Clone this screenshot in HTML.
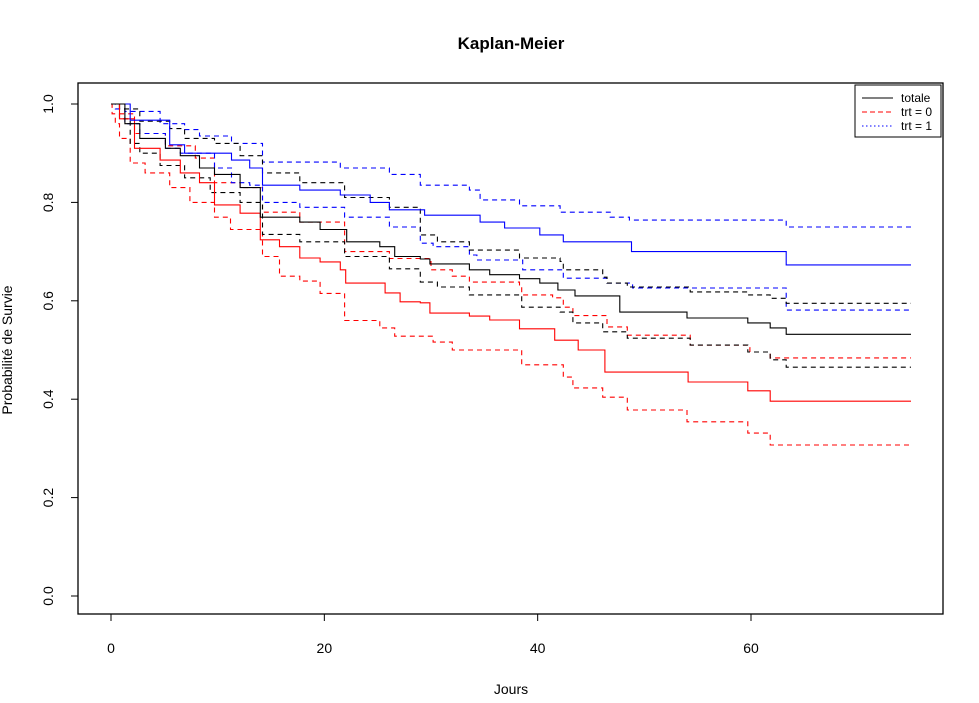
<!DOCTYPE html>
<html><head><meta charset="utf-8"><style>
body{margin:0;background:#fff;}
svg{display:block;font-family:"Liberation Sans",Arial,sans-serif;}
</style></head><body>
<svg id="chart" width="979" height="703" viewBox="0 0 979 703" xmlns="http://www.w3.org/2000/svg">
<rect width="979" height="703" fill="#fff"/>
<text x="511" y="49" text-anchor="middle" font-size="17" font-weight="bold">Kaplan-Meier</text>
<text x="511" y="694" text-anchor="middle" font-size="14">Jours</text>
<text transform="translate(12,350) rotate(-90)" text-anchor="middle" font-size="14">Probabilité de Survie</text>
<rect x="78" y="83" width="865" height="531" fill="none" stroke="#000" stroke-width="1.3"/>
<g id="axes"></g>
<g id="curves"></g>
<g>
<rect x="855" y="85" width="86" height="52" fill="#fff" stroke="#000" stroke-width="1"/>
<line x1="862" y1="98" x2="893" y2="98" stroke="#000"/>
<text x="901" y="102" font-size="12">totale</text>
<line x1="862" y1="112" x2="893" y2="112" stroke="#f00" stroke-dasharray="5,3"/>
<text x="901" y="116" font-size="12">trt = 0</text>
<line x1="862" y1="126" x2="893" y2="126" stroke="#00f" stroke-dasharray="1.5,2.5"/>
<text x="901" y="130" font-size="12">trt = 1</text>
</g>
</svg>
<script>
const xTicks=[0,20,40,60];
const yTicks=[0.0,0.2,0.4,0.6,0.8,1.0];
const tMax=75;
// totale
const totT=[1.3,2.7,5.1,6.5,8.3,9.7,12.1,14,17.7,19.6,22.1,25.2,26.6,29,29.9,33.6,35.5,38.3,40.2,41.9,43.5,47.7,54,59.7,61.8,63.3];
const totS=[0.96,0.93,0.91,0.895,0.87,0.857,0.83,0.77,0.76,0.745,0.72,0.71,0.69,0.685,0.675,0.663,0.653,0.645,0.636,0.622,0.61,0.577,0.565,0.555,0.545,0.532];
const totUT=[0.8,2.7,5.5,6.9,9.7,12.1,14.2,17.7,21.9,26.1,29,30.6,33.6,38.3,42.1,42.4,46.1,46.5,48.4,54.3,59.7,61.8,63.3];
const totUS=[0.99,0.965,0.95,0.93,0.92,0.895,0.86,0.84,0.81,0.79,0.734,0.72,0.703,0.687,0.68,0.663,0.648,0.636,0.628,0.618,0.612,0.605,0.595];
const totLT=[0.8,1.8,2.7,4.6,6.9,9.3,12.1,14.2,17.7,21.9,26.1,29,30.6,33.6,38.5,42.1,43.3,46.1,48.4,54.3,59.7,61.8,63.3];
const totLS=[0.97,0.92,0.9,0.875,0.85,0.82,0.8,0.735,0.72,0.69,0.665,0.638,0.628,0.612,0.587,0.577,0.555,0.537,0.524,0.51,0.496,0.48,0.465];
// trt = 0
const t0T=[0.8,2.2,4.6,6.5,8.3,9.7,12.1,14,15.8,17.7,19.6,21.5,22,25.7,27.1,29,29.9,33.6,35.5,38.3,41.6,43.8,46.3,54.1,59.7,61.8];
const t0S=[0.97,0.91,0.886,0.86,0.84,0.795,0.778,0.724,0.71,0.687,0.679,0.663,0.636,0.616,0.598,0.596,0.575,0.569,0.561,0.543,0.52,0.5,0.455,0.435,0.417,0.396];
const t0UT=[0.8,2.2,5.1,7.9,9.7,12.1,14.2,17.7,21.9,26.1,30,32,33.6,38.3,38.5,41.4,42.4,43.3,46.5,48.4,54.3,59.9,61.8];
const t0US=[0.98,0.94,0.915,0.89,0.84,0.83,0.78,0.76,0.70,0.686,0.663,0.65,0.638,0.628,0.612,0.606,0.587,0.57,0.547,0.53,0.51,0.496,0.484];
const t0LT=[0.1,0.4,0.8,1.8,3.2,5.5,7.4,9.7,11.2,14.2,15.8,17.7,19.6,21.9,25.2,26.6,30.2,32,38.5,42.4,43.3,46.1,48.4,54,59.7,61.8];
const t0LS=[0.98,0.96,0.93,0.88,0.86,0.83,0.8,0.77,0.745,0.69,0.65,0.64,0.615,0.56,0.545,0.528,0.516,0.5,0.47,0.445,0.423,0.404,0.378,0.354,0.331,0.307];
// trt = 1
const t1T=[1.8,5.5,6.9,11.3,13,14.2,17.7,21.5,24.3,26.1,29.4,34.6,36.9,40.2,42.4,48.8,63.3];
const t1S=[0.967,0.917,0.9,0.886,0.87,0.835,0.825,0.815,0.80,0.785,0.774,0.76,0.748,0.734,0.72,0.70,0.673];
const t1UT=[1.3,4.6,6.9,8.3,11.3,14.2,21.5,26.1,29,33.6,34.6,38.3,42.1,46.8,48.6,63.3];
const t1US=[0.985,0.96,0.948,0.935,0.92,0.882,0.87,0.857,0.835,0.825,0.805,0.793,0.78,0.77,0.764,0.75];
const t1LT=[0.4,1.3,2.7,5.1,6.5,9.7,11.3,13,14.2,17.7,21.9,26.1,29,30.2,33.6,34.3,38.6,42.4,46.5,48.9,63.3];
const t1LS=[0.99,0.96,0.94,0.91,0.9,0.87,0.84,0.835,0.8,0.79,0.77,0.75,0.717,0.71,0.693,0.683,0.663,0.646,0.636,0.626,0.581];

const NS="http://www.w3.org/2000/svg";
function xs(d){return 111+d*(751-111)/60;}
function ys(v){return 596-v*492;}
const axes=document.getElementById('axes');
function mk(tag,attrs,parent){const e=document.createElementNS(NS,tag);for(const k in attrs)e.setAttribute(k,attrs[k]);parent.appendChild(e);return e;}
xTicks.forEach(t=>{
  const l=mk('line',{x1:xs(t),x2:xs(t),y1:614,y2:621,stroke:'#000'},axes);
  
  
  const tx=mk('text',{x:xs(t),y:653,'text-anchor':'middle','font-size':'14'},axes);
  tx.textContent=String(t);
  
  
});
yTicks.forEach(t=>{
  const l=mk('line',{x1:71,x2:78,y1:ys(t),y2:ys(t),stroke:'#000'},axes);
  
  
  const tx=mk('text',{transform:'translate(53,'+ys(t)+') rotate(-90)','text-anchor':'middle','font-size':'14'},axes);
  tx.textContent=t.toFixed(1);
  
  
});
const curves=document.getElementById('curves');
function step(T,S,color,dash,name){
  let d='M'+xs(0)+','+ys(1);let prev=1;
  for(let i=0;i<T.length;i++){d+=' H'+xs(T[i]).toFixed(1)+' V'+ys(S[i]).toFixed(1);prev=S[i];}
  d+=' H'+xs(tMax);
  const p=mk('path',{d:d,fill:'none',stroke:color,'stroke-width':'1.1'},curves);
  if(dash)p.setAttribute('stroke-dasharray',dash);
  
  
}
step(t0LT,t0LS,'#f00','5,4','trt0-lower-ci');
step(t0UT,t0US,'#f00','5,4','trt0-upper-ci');
step(t1LT,t1LS,'#00f','5,4','trt1-lower-ci');
step(t1UT,t1US,'#00f','5,4','trt1-upper-ci');
step(totLT,totLS,'#000','5,4','totale-lower-ci');
step(totUT,totUS,'#000','5,4','totale-upper-ci');
step(t0T,t0S,'#f00',null,'trt0-survival-curve');
step(t1T,t1S,'#00f',null,'trt1-survival-curve');
step(totT,totS,'#000',null,'totale-survival-curve');
</script>
</body></html>
